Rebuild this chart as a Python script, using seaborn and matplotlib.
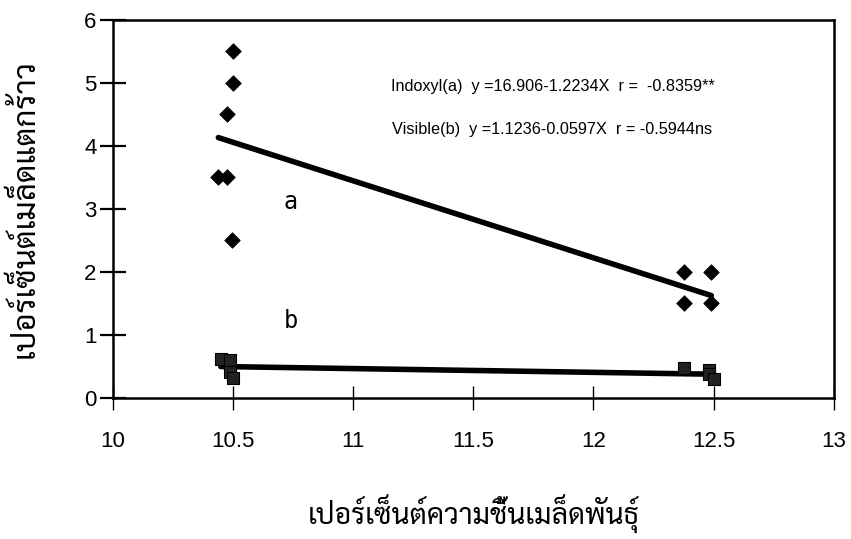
import matplotlib
matplotlib.use("Agg")
import matplotlib.pyplot as plt
import numpy as np
import pandas as pd
import seaborn as sns

# Seed moisture (%) and cracked-seed percentage, Indoxyl method (a)
moist_a = [10.50, 10.50, 10.475, 10.44, 10.475, 10.495, 12.375, 12.49, 12.375, 12.49]
crack_a = [5.5, 5.0, 4.5, 3.5, 3.5, 2.5, 2.0, 2.0, 1.5, 1.5]

# Same seed lots, visible inspection (b)
moist_b = [10.45, 10.49, 10.49, 10.50, 12.375, 12.48, 12.48, 12.50]
crack_b = [0.62, 0.60, 0.42, 0.32, 0.47, 0.45, 0.38, 0.30]

# Fitted regressions y = b0 + b1 * X
coef_a = (16.906, -1.2234)
coef_b = (1.1236, -0.0597)

x_ticks = [10, 10.5, 11, 11.5, 12, 12.5, 13]
x_tick_labels = ["10", "10.5", "11", "11.5", "12", "12.5", "13"]
y_ticks = [0, 1, 2, 3, 4, 5, 6]

eq_a = "Indoxyl(a)  y =16.906-1.2234X  r =  -0.8359**"
eq_b = "Visible(b)  y =1.1236-0.0597X  r = -0.5944ns"
x_label = "เปอร์เซ็นต์ความชื้นเมล็ดพันธุ์"
y_label = "เปอร์เซ็นต์เมล็ดแตกร้าว"

sns.set_style("white")
plt.rcParams["font.family"] = ["Liberation Sans", "Sarabun"]
plt.rcParams.update({
    "text.color": "black",
    "axes.labelcolor": "black",
    "xtick.color": "black",
    "ytick.color": "black",
})

pts_a = pd.DataFrame({"x": moist_a, "y": crack_a})
pts_b = pd.DataFrame({"x": moist_b, "y": crack_b})

def fit_line(xs, coef):
    xr = np.array([min(xs), max(xs)])
    return pd.DataFrame({"x": xr, "y": coef[0] + coef[1] * xr})

fig = plt.figure(figsize=(8.51, 5.39), dpi=100)
ax = fig.add_axes([0.1322, 0.2616, 0.8478, 0.7013])

sns.lineplot(data=fit_line(moist_a, coef_a), x="x", y="y", ax=ax,
             color="black", linewidth=4.0, zorder=2)
sns.lineplot(data=fit_line(moist_b, coef_b), x="x", y="y", ax=ax,
             color="black", linewidth=4.0, zorder=2)
sns.scatterplot(data=pts_a, x="x", y="y", ax=ax, marker="D", s=62,
                color="black", edgecolor="black", linewidth=0.6, zorder=3)
sns.scatterplot(data=pts_b, x="x", y="y", ax=ax, marker="s", s=80,
                color="#222222", edgecolor="black", linewidth=0.8, zorder=3)

ax.set_xlim(10, 13)
ax.set_ylim(0, 6)
ax.set_xticks(x_ticks)
ax.set_xticklabels(x_tick_labels)
ax.set_yticks(y_ticks)

for side in ["left", "bottom", "top", "right"]:
    ax.spines[side].set_color("black")
    ax.spines[side].set_linewidth(1.8)

ax.tick_params(axis="y", direction="inout", length=19, width=1.6,
               labelsize=16, pad=2, left=True)
ax.tick_params(axis="x", direction="inout", length=17, width=1.0,
               labelsize=16, pad=15, bottom=True)

ax.set_xlabel(x_label, family=["Sarabun"], fontsize=20.5, labelpad=31)
ax.set_ylabel(y_label, family=["Sarabun"], fontsize=22.5, labelpad=31)

ax.text(11.158, 4.94, eq_a, fontsize=11.7, va="center", ha="left")
ax.text(11.162, 4.26, eq_b, fontsize=11.7, va="center", ha="left")

ax.text(10.74, 3.11, "a", family=["DejaVu Sans Mono"], fontsize=17,
        ha="center", va="center")
ax.text(10.74, 1.22, "b", family=["DejaVu Sans Mono"], fontsize=17,
        ha="center", va="center")

fig.savefig("out.png", dpi=100, facecolor="white")
